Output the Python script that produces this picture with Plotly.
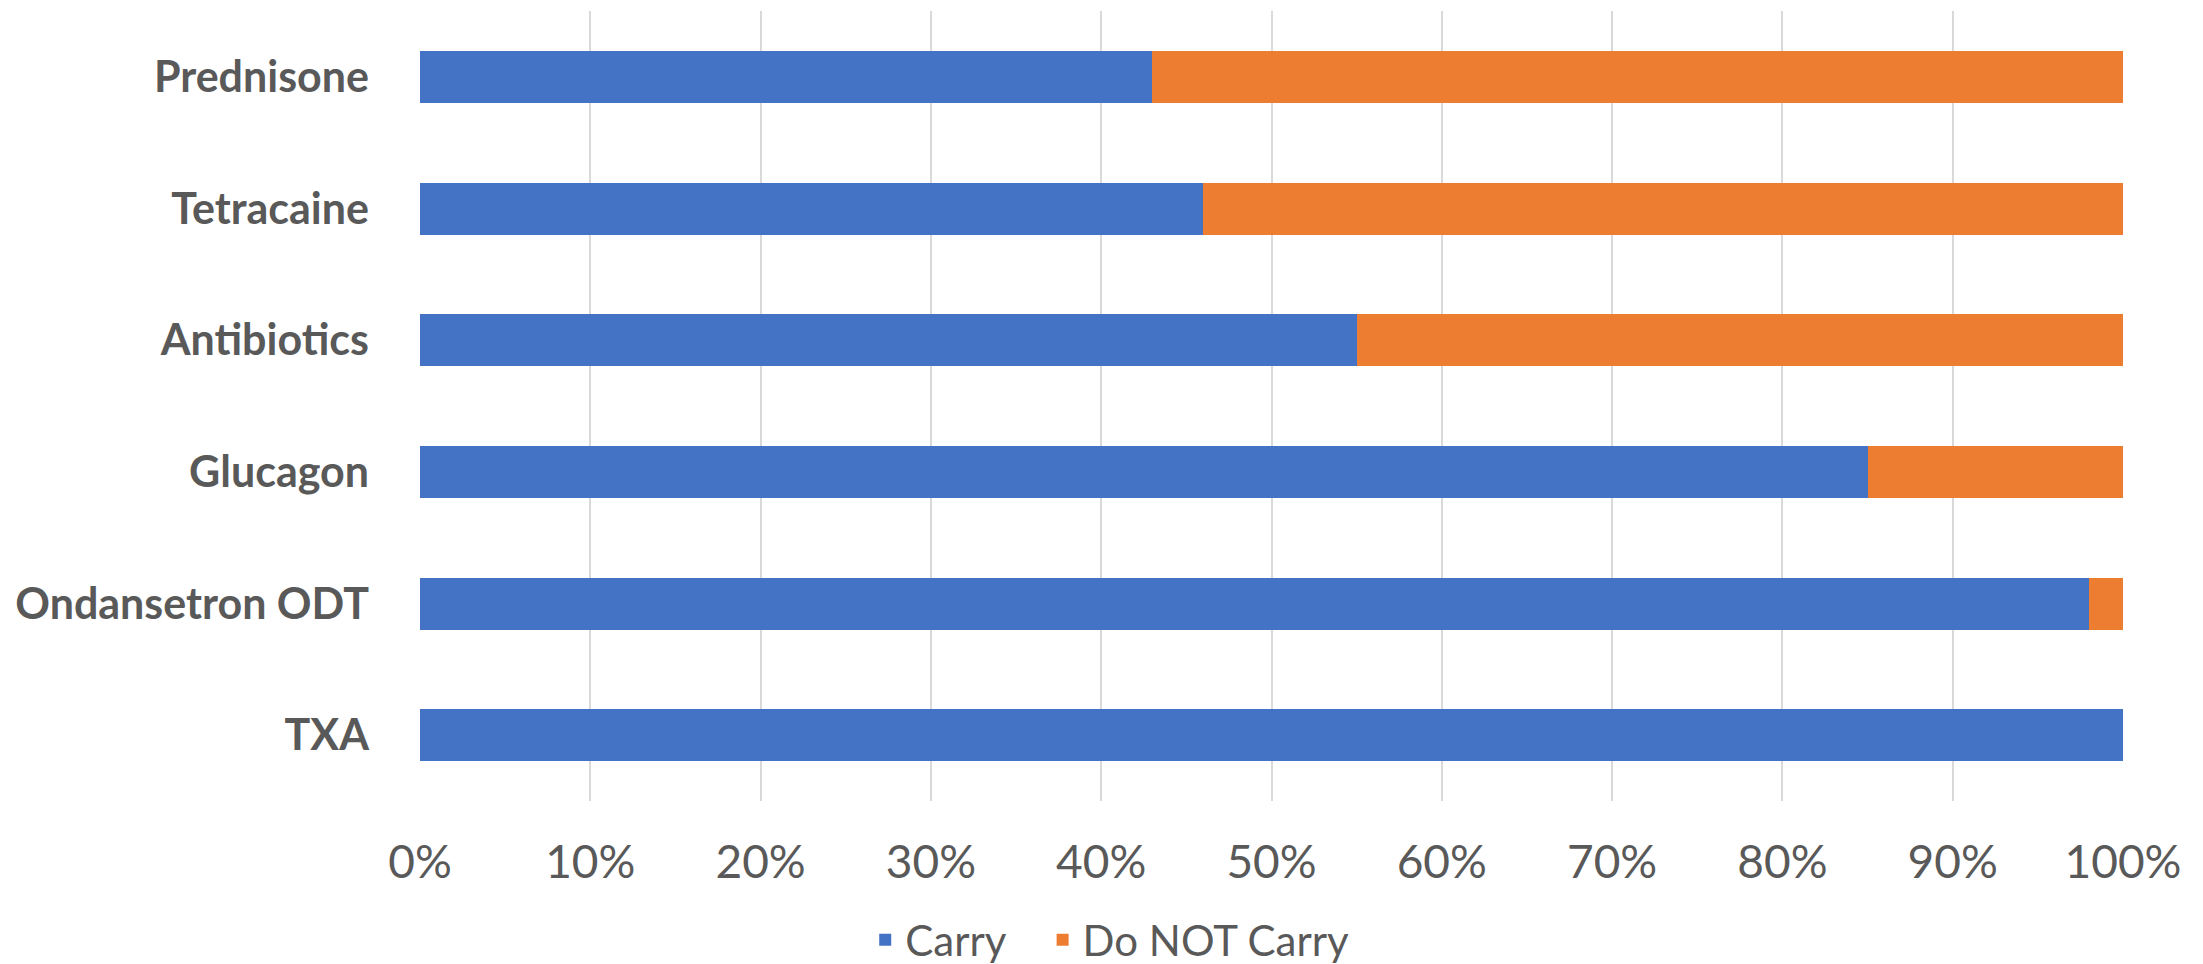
import plotly.graph_objects as go

categories = ["Prednisone", "Tetracaine", "Antibiotics", "Glucagon", "Ondansetron ODT", "TXA"]
carry = [0.43, 0.46, 0.55, 0.85, 0.98, 1.00]
do_not_carry = [0.57, 0.54, 0.45, 0.15, 0.02, 0.00]
x_ticks = [0, 0.1, 0.2, 0.3, 0.4, 0.5, 0.6, 0.7, 0.8, 0.9, 1.0]
x_tick_labels = ["0%", "10%", "20%", "30%", "40%", "50%", "60%", "70%", "80%", "90%", "100%"]
series_names = ["Carry", "Do NOT Carry"]

BLUE = "#4472C4"
ORANGE = "#ED7D31"
TEXT = "#595959"
GRID = "#D9D9D9"
FONT = "Lato"

fig = go.Figure()
fig.add_trace(go.Bar(y=categories, x=carry, orientation="h", name=series_names[0] + "\u00a0\u00a0\u00a0",
                     marker=dict(color=BLUE, line=dict(width=0))))
fig.add_trace(go.Bar(y=categories, x=do_not_carry, orientation="h", name=series_names[1],
                     marker=dict(color=ORANGE, line=dict(width=0))))

fig.update_layout(
    width=2203, height=964,
    barmode="stack", bargap=0.605,
    paper_bgcolor="white", plot_bgcolor="white",
    margin=dict(l=420, r=80, t=11, b=163, autoexpand=False),
    font=dict(family=FONT, color=TEXT, size=40),
    legend=dict(orientation="h", x=0.405, xanchor="center", y=-0.176, yanchor="middle",
                font=dict(family=FONT, size=42, color=TEXT), traceorder="normal"),
    showlegend=True,
)
fig.update_xaxes(range=[0, 1], tickvals=x_ticks, ticktext=x_tick_labels,
                 showgrid=True, gridcolor=GRID, gridwidth=2, automargin=False,
                 zeroline=False, showline=False, ticks="", ticklabelstandoff=30,
                 tickfont=dict(family=FONT, size=46, color=TEXT), fixedrange=True)
fig.update_yaxes(autorange="reversed", showgrid=False, zeroline=False, showline=False,
                 ticks="", ticklabelstandoff=50, automargin=False,
                 tickfont=dict(family=FONT, size=43, color=TEXT, weight="bold"))

fig.write_html("out.html", config={"displayModeBar": False},
               post_script="document.body.style.margin='0';document.body.style.overflow='hidden';")
